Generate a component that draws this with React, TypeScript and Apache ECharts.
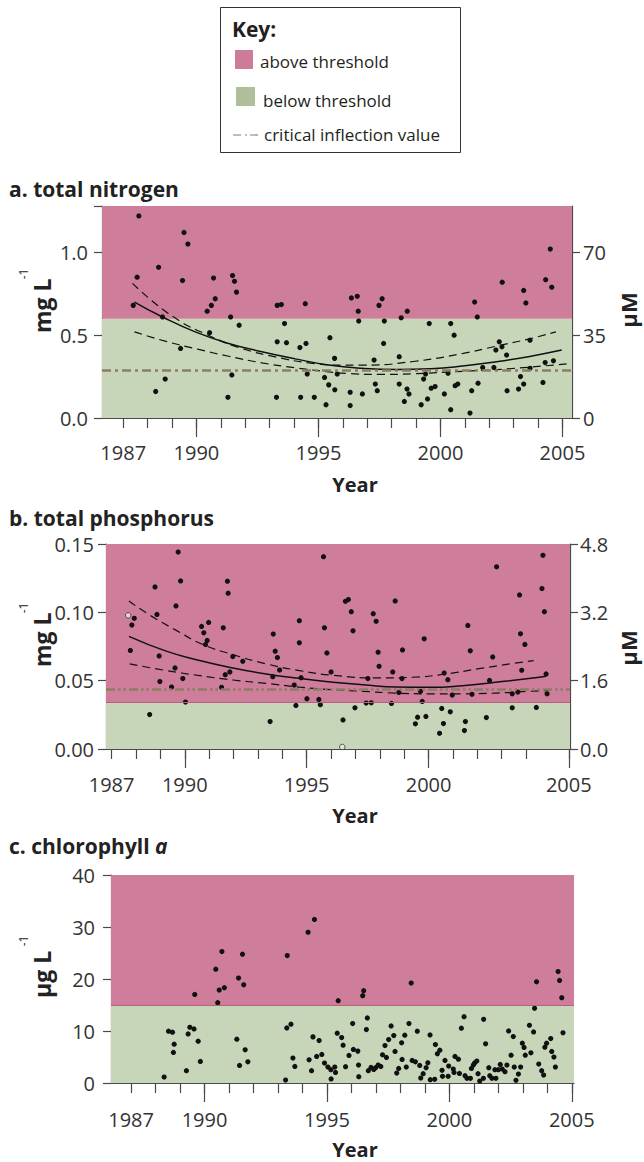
import { useEffect, useRef } from "react";
import * as echarts from "echarts";

const FONT = '"Open Sans", "DejaVu Sans", sans-serif';
const PINK = "#CE7D9B";
const GREEN = "#C7D6B9";
const KEY_PINK = "#CC7B9A";
const KEY_GREEN = "#AFBF99";
const CRIT = "#8A7E64";
const AX = "#4a4a4a";
const TXT = "#333333";

// ---------- tick labels ----------
const tickYears = [1987, 1988, 1989, 1990, 1991, 1992, 1993, 1994, 1995, 1996, 1997, 1998, 1999, 2000, 2001, 2002, 2003, 2004, 2005];
const majorYears = [1990, 1995, 2000, 2005];
const labelYears = [1987, 1990, 1995, 2000, 2005];
const phosLastTick = 2005.75; // panel b draws its "2005" tick at the right edge

// ---------- a. total nitrogen (mg/L) ----------
const nitrogenPoints = [
  [1987.64, 1.22], [1987.57, 0.85], [1987.41, 0.68], [1988.45, 0.91], [1988.61, 0.61], [1988.33, 0.16], [1988.72, 0.235],
  [1989.49, 1.12], [1989.65, 1.05], [1989.43, 0.83], [1989.35, 0.42], [1990.7, 0.845], [1990.77, 0.72], [1990.61, 0.68],
  [1990.44, 0.645], [1990.54, 0.515], [1991.48, 0.86], [1991.56, 0.825], [1991.64, 0.76], [1991.4, 0.61], [1991.75, 0.56],
  [1991.45, 0.26], [1991.29, 0.125], [1993.31, 0.68], [1993.48, 0.685], [1993.61, 0.57], [1993.31, 0.46], [1993.69, 0.455],
  [1993.28, 0.125], [1994.46, 0.69], [1994.24, 0.425], [1994.49, 0.45], [1994.54, 0.265], [1994.27, 0.125], [1994.83, 0.125],
  [1995.47, 0.485], [1995.66, 0.36], [1995.25, 0.245], [1995.42, 0.2], [1995.67, 0.17], [1995.31, 0.08], [1995.77, 0.265],
  [1996.35, 0.725], [1996.59, 0.735], [1996.63, 0.645], [1996.65, 0.585], [1996.3, 0.155], [1996.3, 0.075], [1996.8, 0.145],
  [1997.61, 0.72], [1997.48, 0.68], [1997.7, 0.585], [1997.67, 0.45], [1997.28, 0.35], [1997.33, 0.205], [1997.41, 0.165],
  [1998.39, 0.605], [1998.64, 0.645], [1998.31, 0.37], [1998.31, 0.205], [1998.63, 0.175], [1998.71, 0.145], [1998.52, 0.1],
  [1999.54, 0.57], [1999.39, 0.265], [1999.31, 0.235], [1999.62, 0.18], [1999.78, 0.19], [1999.47, 0.115], [1999.21, 0.08],
  [2000.42, 0.57], [2000.56, 0.5], [2000.31, 0.27], [2000.6, 0.195], [2000.71, 0.205], [2000.16, 0.145], [2000.42, 0.05],
  [2001.4, 0.7], [2001.51, 0.61], [2001.54, 0.21], [2001.28, 0.165], [2001.21, 0.03], [2002.53, 0.82], [2002.41, 0.46],
  [2002.52, 0.43], [2002.27, 0.41], [2002.71, 0.38], [2002.19, 0.305], [2001.73, 0.305], [2002.73, 0.165], [2003.41, 0.77],
  [2003.5, 0.695], [2003.28, 0.25], [2003.41, 0.205], [2003.2, 0.175], [2003.67, 0.47], [2003.67, 0.3], [2004.5, 1.02],
  [2004.31, 0.835], [2004.56, 0.79], [2004.29, 0.335], [2004.63, 0.345], [2004.2, 0.215],
];
const nitrogenFit = [
  [1987.46, 0.7], [1988.61, 0.61], [1989.95, 0.52], [1991.32, 0.45], [1992.68, 0.4], [1994.05, 0.357], [1995.42, 0.32],
  [1996.8, 0.3], [1998.2, 0.293], [1999.6, 0.297], [2001.0, 0.315], [2002.3, 0.34], [2003.6, 0.37], [2004.97, 0.41],
];
const nitrogenUpper = [
  [1987.38, 0.813], [1989.02, 0.614], [1990.66, 0.488], [1991.86, 0.42], [1993.23, 0.369], [1994.6, 0.333], [1995.96, 0.319],
  [1996.84, 0.319], [1998.88, 0.341], [2000.93, 0.39], [2002.29, 0.434], [2003.65, 0.478], [2004.73, 0.52],
];
const nitrogenLower = [
  [1987.46, 0.52], [1988.72, 0.464], [1990.09, 0.414], [1991.32, 0.373], [1992.68, 0.333], [1994.05, 0.303], [1995.42, 0.279],
  [1996.16, 0.269], [1997.52, 0.263], [1998.88, 0.267], [2000.24, 0.277], [2001.6, 0.287], [2002.97, 0.299], [2005.17, 0.327],
];
const nitrogenThreshold = 0.6;
const nitrogenCritical = 0.29;
const nitrogenMax = 1.28;
const nitrogenToMicroM = 70;

// ---------- b. total phosphorus (mg/L) ----------
const phosphorusPoints = [
  [1987.93, 0.0956], [1987.83, 0.0907], [1987.77, 0.0721], [1988.78, 0.1186], [1988.86, 0.0985], [1988.95, 0.0681],
  [1988.98, 0.0493], [1988.56, 0.0252], [1989.73, 0.1441], [1989.83, 0.123], [1989.64, 0.1047], [1989.6, 0.0593],
  [1989.46, 0.0453], [1989.92, 0.0515], [1990.03, 0.0343], [1990.69, 0.0897], [1990.98, 0.0926], [1990.78, 0.085],
  [1990.92, 0.0794], [1990.85, 0.0765], [1991.75, 0.1228], [1991.78, 0.114], [1991.58, 0.0887], [1991.97, 0.0676],
  [1991.66, 0.0544], [1991.85, 0.0564], [1991.51, 0.0451], [1992.38, 0.0642], [1993.63, 0.0841], [1993.71, 0.0716],
  [1993.8, 0.0669], [1993.89, 0.0578], [1993.61, 0.0529], [1993.5, 0.0201], [1994.7, 0.0939], [1994.7, 0.0777],
  [1994.77, 0.0522], [1994.49, 0.0468], [1994.56, 0.0319], [1995.01, 0.0368], [1995.69, 0.1407], [1995.73, 0.0887],
  [1995.83, 0.0703], [1996.0, 0.0564], [1995.5, 0.0363], [1995.56, 0.0324], [1996.59, 0.1081], [1996.71, 0.1093],
  [1996.83, 0.1005], [1996.9, 0.0865], [1996.49, 0.0213], [1996.98, 0.0301], [1997.51, 0.0515], [1997.44, 0.0336],
  [1997.65, 0.0338], [1997.73, 0.099], [1997.85, 0.0934], [1997.93, 0.0708], [1997.97, 0.0605], [1998.53, 0.0564],
  [1998.63, 0.1083], [1998.48, 0.0333], [1998.78, 0.0414], [1998.93, 0.0725], [1998.91, 0.0515], [1999.82, 0.0806],
  [1999.74, 0.0348], [1999.67, 0.0422], [1999.55, 0.0233], [1999.46, 0.0184], [1999.89, 0.0238], [2000.64, 0.0556],
  [2000.79, 0.0507], [2000.97, 0.0395], [2000.54, 0.0297], [2000.89, 0.0272], [2000.61, 0.0186], [2000.45, 0.0115],
  [2001.61, 0.0904], [2001.71, 0.0718], [2001.78, 0.04], [2001.51, 0.0201], [2001.47, 0.0135], [2002.63, 0.0674],
  [2002.5, 0.0502], [2002.37, 0.023], [2002.79, 0.1333], [2003.73, 0.1127], [2003.77, 0.0843], [2003.95, 0.0765],
  [2003.82, 0.0576], [2003.66, 0.0417], [2003.43, 0.0404], [2003.43, 0.0301], [2004.69, 0.1417], [2004.65, 0.1174],
  [2004.75, 0.1005], [2004.82, 0.0549], [2004.86, 0.0404], [2004.42, 0.0304],
];
const phosphorusOpen = [[1987.68, 0.0978], [1996.46, 0.0015]];
const phosphorusFit = [
  [1987.71, 0.0824], [1989.24, 0.0716], [1990.61, 0.0647], [1991.97, 0.0593], [1993.34, 0.0549], [1994.7, 0.0517],
  [1996.07, 0.0488], [1997.31, 0.0471], [1998.67, 0.0453], [2000.03, 0.0451], [2001.39, 0.0463], [2002.75, 0.0488],
  [2004.11, 0.0515], [2004.82, 0.0532],
];
const phosphorusUpper = [
  [1987.71, 0.1083], [1988.56, 0.098], [1989.65, 0.0868], [1990.74, 0.0765], [1991.97, 0.0691], [1993.34, 0.0623],
  [1994.7, 0.0574], [1996.07, 0.0539], [1997.99, 0.052], [1999.35, 0.0525], [2000.71, 0.0549], [2002.07, 0.0588],
  [2003.43, 0.0625], [2004.31, 0.0647],
];
const phosphorusLower = [
  [1987.74, 0.0623], [1989.24, 0.0574], [1990.61, 0.0537], [1991.97, 0.0505], [1993.34, 0.048], [1994.7, 0.0453],
  [1996.07, 0.0434], [1997.31, 0.0422], [1998.67, 0.0409], [2000.03, 0.0404], [2001.39, 0.0404], [2002.75, 0.0409],
  [2004.11, 0.0422], [2004.93, 0.0429],
];
const phosphorusThreshold = 0.034;
const phosphorusCritical = 0.044;
const phosphorusMax = 0.15;
const phosphorusMicroMMax = 4.8;

// ---------- c. chlorophyll a (µg/L) ----------
const chlorophyllPoints = [
  [1988.35, 1.15], [1988.53, 9.96], [1988.69, 9.76], [1988.76, 7.47], [1988.73, 5.87], [1989.26, 2.36], [1989.33, 9.44],
  [1989.4, 10.72], [1989.57, 10.4], [1989.74, 8.04], [1989.83, 4.15], [1989.6, 17.04], [1990.46, 21.89], [1990.71, 25.27],
  [1990.6, 17.87], [1990.81, 18.32], [1990.54, 15.44], [1991.39, 20.17], [1991.55, 24.76], [1991.6, 18.89], [1991.32, 8.42],
  [1991.66, 6.38], [1991.43, 3.38], [1991.77, 4.08], [1993.38, 24.51], [1993.36, 10.59], [1993.53, 11.3], [1993.31, 0.57],
  [1993.61, 4.79], [1993.69, 3.19], [1994.23, 28.97], [1994.49, 31.46], [1994.43, 8.87], [1994.68, 8.17], [1994.27, 4.47],
  [1994.37, 2.36], [1994.58, 5.11], [1994.79, 5.49], [1994.9, 3.83], [1995.04, 3.06], [1995.16, 2.55], [1995.32, 3.06],
  [1995.35, 2.04], [1995.17, 0.77], [1995.46, 15.83], [1995.42, 9.57], [1995.6, 8.74], [1995.66, 7.28],
  [1995.76, 3.13], [1995.9, 5.3], [1996.08, 6.45], [1996.26, 6.13], [1996.05, 11.42], [1996.29, 3.45], [1996.3, 1.21],
  [1996.46, 16.78], [1996.5, 17.74], [1996.65, 12.51], [1996.61, 10.27], [1996.69, 2.36], [1996.8, 3.0], [1996.91, 2.62],
  [1996.99, 2.94], [1997.09, 3.45], [1997.2, 3.19], [1997.27, 5.42], [1997.37, 7.21], [1997.43, 4.91], [1997.52, 8.36],
  [1997.62, 10.98], [1997.73, 9.13], [1997.78, 6.06], [1997.85, 1.91], [1997.93, 2.81], [1998.05, 7.72], [1998.07, 4.53],
  [1998.18, 9.19], [1998.24, 3.06], [1998.44, 19.21], [1998.35, 11.42], [1998.48, 4.34], [1998.61, 4.08], [1998.69, 9.96],
  [1998.79, 3.38], [1998.83, 0.96], [1998.93, 1.79], [1999.05, 2.94], [1999.12, 3.89], [1999.21, 9.25], [1999.22, 0.64],
  [1999.4, 0.7], [1999.43, 7.4], [1999.51, 5.62], [1999.61, 6.32], [1999.7, 2.43], [1999.72, 1.28], [1999.82, 4.34],
  [1999.95, 1.28], [1999.97, 3.25], [2000.16, 2.68], [2000.19, 2.04], [2000.23, 5.11], [2000.37, 4.59], [2000.41, 1.85],
  [2000.49, 10.53], [2000.6, 12.76], [2000.64, 1.4], [2000.72, 0.89], [2000.86, 0.89], [2000.9, 2.81], [2000.98, 3.45],
  [2001.03, 3.83], [2001.12, 4.21], [2001.17, 1.79], [2001.24, 0.38], [2001.39, 0.89], [2001.4, 12.25], [2001.48, 7.53],
  [2001.61, 2.94], [2001.65, 1.4], [2001.74, 0.89], [2001.86, 2.55], [2001.9, 0.89], [2002.0, 2.55], [2002.08, 3.57],
  [2002.16, 2.68], [2002.27, 2.17], [2002.35, 3.45], [2002.42, 10.02], [2002.52, 5.36], [2002.61, 8.93], [2002.65, 3.06],
  [2002.72, 0.51], [2002.82, 1.72], [2002.91, 3.06], [2002.98, 7.66], [2003.05, 6.83], [2003.1, 5.36], [2003.27, 11.1],
  [2003.33, 5.81], [2003.44, 9.83], [2003.48, 14.36], [2003.56, 19.46], [2003.65, 3.64], [2003.77, 2.36], [2003.85, 1.53],
  [2003.9, 6.89], [2003.97, 7.66], [2004.14, 8.55], [2004.18, 6.06], [2004.27, 4.98], [2004.33, 3.06], [2004.44, 21.44],
  [2004.5, 19.72], [2004.59, 16.4], [2004.64, 9.64],
];
const chlorophyllThreshold = 15;
const chlorophyllMax = 40;

export default function App() {
  const ref = useRef<HTMLDivElement>(null);

  useEffect(() => {
    if (!ref.current) return;
    const chart = echarts.init(ref.current, null, { renderer: "svg" });

    const labelStyle = { color: TXT, fontSize: 20, fontFamily: FONT };
    const lineSty = { color: AX, width: 1.2 };

    const makeX = (gi: number, min: number, max: number, ticks: number[], majors: number[], labels: number[], margin: number) => [
      {
        type: "value", gridIndex: gi, min, max, position: "bottom",
        axisLine: { show: true, onZero: false, lineStyle: lineSty },
        axisTick: { show: true, customValues: ticks, length: 10, lineStyle: lineSty },
        axisLabel: { show: true, customValues: labels, margin, ...labelStyle, formatter: (v: number) => String(Math.floor(v + 1e-6)) },
        splitLine: { show: false },
      },
      {
        type: "value", gridIndex: gi, min, max, position: "bottom",
        axisLine: { show: false },
        axisTick: { show: true, customValues: majors, length: 19, lineStyle: lineSty },
        axisLabel: { show: false },
        splitLine: { show: false },
      },
    ];

    const makeY = (gi: number, min: number, max: number, pos: string, ticks: number[], labels: number[], margin: number, fmt: (v: number) => string) => ({
      type: "value", gridIndex: gi, min, max, position: pos,
      axisLine: { show: true, onZero: false, lineStyle: lineSty },
      axisTick: { show: true, customValues: ticks, length: 8, lineStyle: lineSty },
      axisLabel: { show: true, customValues: labels, margin, ...labelStyle, formatter: fmt },
      splitLine: { show: false },
    });

    const phosTicks = tickYears.slice(0, -1).concat([phosLastTick]);
    const phosMajors = majorYears.slice(0, -1).concat([phosLastTick]);
    const phosLabels = labelYears.slice(0, -1).concat([phosLastTick]);

    const xAxis = [
      ...makeX(0, 1986.13, 2005.39, tickYears, majorYears, labelYears, 24),
      ...makeX(1, 1986.77, 2005.8, phosTicks, phosMajors, phosLabels, 25),
      ...makeX(2, 1986.18, 2005.09, tickYears, majorYears, labelYears, 26),
    ];

    const nMicroMax = nitrogenMax * nitrogenToMicroM;
    const yAxis = [
      makeY(0, 0, nitrogenMax, "left", [0, 0.5, 1.0, nitrogenMax], [0, 0.5, 1.0], 14, (v) => v.toFixed(1)),
      makeY(0, 0, nMicroMax, "right", [0, 35, 70], [0, 35, 70], 11, (v) => String(v)),
      makeY(1, 0, phosphorusMax, "left", [0, 0.05, 0.1, 0.15], [0, 0.05, 0.1, 0.15], 12, (v) => v.toFixed(2)),
      makeY(1, 0, phosphorusMicroMMax, "right", [0, 1.6, 3.2, 4.8], [0, 1.6, 3.2, 4.8], 10, (v) => v.toFixed(1)),
      makeY(2, 0, chlorophyllMax, "left", [0, 10, 20, 30, 40], [0, 10, 20, 30, 40], 16, (v) => String(v)),
    ];

    const bands = (xi: number, yi: number, thr: number, max: number, edge: boolean) => ({
      type: "line", xAxisIndex: xi, yAxisIndex: yi, data: [], silent: true, z: 1,
      markArea: {
        silent: true,
        precision: 6,
        data: [
          [{ yAxis: 0, itemStyle: { color: GREEN } }, { yAxis: thr }],
          [{ yAxis: thr, itemStyle: { color: PINK } }, { yAxis: max }],
        ],
      },
      markLine: edge
        ? { silent: true, precision: 6, symbol: ["none", "none"], label: { show: false }, lineStyle: { color: "#B5617F", width: 1, type: "solid" }, data: [{ yAxis: thr }] }
        : undefined,
    });

    const critical = (xi: number, yi: number, val: number, dash: number[]) => ({
      type: "line", xAxisIndex: xi, yAxisIndex: yi, data: [], silent: true, z: 2,
      markLine: {
        silent: true, precision: 6, symbol: ["none", "none"], label: { show: false },
        lineStyle: { color: CRIT, width: 2.6, type: dash, opacity: 1 },
        data: [{ yAxis: val }],
      },
    });

    const dots = (xi: number, yi: number, data: number[][]) => ({
      type: "scatter", xAxisIndex: xi, yAxisIndex: yi, data, symbolSize: 5.2, z: 4,
      itemStyle: { color: "#111111", opacity: 1 }, silent: true,
    });

    const curve = (xi: number, yi: number, data: number[][], dashed: boolean) => ({
      type: "line", xAxisIndex: xi, yAxisIndex: yi, data, smooth: true, showSymbol: false, z: 3, silent: true,
      lineStyle: { color: "#111111", width: dashed ? 1.2 : 1.5, type: dashed ? [8, 5] : "solid" },
    });

    const series = [
      bands(0, 0, nitrogenThreshold, nitrogenMax, false),
      critical(0, 0, nitrogenCritical, [9, 4, 3, 4]),
      curve(0, 0, nitrogenFit, false),
      curve(0, 0, nitrogenUpper, true),
      curve(0, 0, nitrogenLower, true),
      dots(0, 0, nitrogenPoints),

      bands(2, 2, phosphorusThreshold, phosphorusMax, true),
      critical(2, 2, phosphorusCritical, [9, 3, 2.5, 3, 2.5, 3]),
      curve(2, 2, phosphorusFit, false),
      curve(2, 2, phosphorusUpper, true),
      curve(2, 2, phosphorusLower, true),
      dots(2, 2, phosphorusPoints),
      {
        type: "scatter", xAxisIndex: 2, yAxisIndex: 2, data: phosphorusOpen, symbolSize: 5.5, z: 4, silent: true,
        itemStyle: { color: "#e8e8e8", borderColor: "#333333", borderWidth: 1 },
      },

      bands(4, 4, chlorophyllThreshold, chlorophyllMax, true),
      dots(4, 4, chlorophyllPoints),
    ];

    const title = (y: number, text: string, rich?: any) => ({
      type: "text", x: 9, y,
      style: { text, fill: "#222222", fontSize: 21, fontWeight: "bold", fontFamily: FONT, align: "left", verticalAlign: "middle", rich },
    });
    const yearLabel = (y: number) => ({
      type: "text", x: 355, y,
      style: { text: "Year", fill: "#222222", fontSize: 20, fontWeight: "bold", fontFamily: FONT, align: "center", verticalAlign: "middle" },
    });
    const unitLabel = (x: number, y: number, main: string, sup: string, supDx: number) => ({
      type: "group", x, y, rotation: Math.PI / 2,
      children: [
        { type: "text", x: 0, y: 0, style: { text: main, fill: "#222222", fontSize: 23, fontWeight: "bold", fontFamily: FONT, align: "left", verticalAlign: "middle" } },
        { type: "text", x: supDx, y: -19, style: { text: sup, fill: "#222222", fontSize: 12, fontFamily: FONT, align: "center", verticalAlign: "middle" } },
      ],
    });
    const microM = (x: number, y: number) => ({
      type: "text", x, y, rotation: Math.PI / 2,
      style: { text: "µM", fill: "#222222", fontSize: 22, fontWeight: "bold", fontFamily: FONT, align: "center", verticalAlign: "middle" },
    });
    const r2 = (x: number, y: number, val: string) => ({
      type: "group", x, y,
      children: [
        { type: "text", x: 0, y: 0, style: { text: "R", fill: "#4a3842", fontSize: 19, fontFamily: FONT, align: "left", verticalAlign: "middle" } },
        { type: "text", x: 12, y: -5, style: { text: "2", fill: "#4a3842", fontSize: 11, fontFamily: FONT, align: "left", verticalAlign: "middle" } },
        { type: "text", x: 19, y: 0, style: { text: "= " + val, fill: "#4a3842", fontSize: 19, fontFamily: FONT, align: "left", verticalAlign: "middle" } },
      ],
    });

    const keyText = (x: number, y: number, text: string) => ({
      type: "text", x, y,
      style: { text, fill: "#231F20", fontSize: 17, fontFamily: FONT, align: "left", verticalAlign: "middle" },
    });

    const graphic = [
      { type: "rect", shape: { x: 220.5, y: 7.5, width: 240, height: 145 }, style: { fill: "#ffffff", stroke: "#333333", lineWidth: 1 } },
      { type: "text", x: 232, y: 29, style: { text: "Key:", fill: "#231F20", fontSize: 21, fontWeight: "bold", fontFamily: FONT, align: "left", verticalAlign: "middle" } },
      { type: "rect", shape: { x: 235, y: 50, width: 18, height: 19 }, style: { fill: KEY_PINK } },
      keyText(260, 61, "above threshold"),
      { type: "rect", shape: { x: 236, y: 87, width: 19, height: 19 }, style: { fill: KEY_GREEN } },
      keyText(263, 100, "below threshold"),
      { type: "line", shape: { x1: 233, y1: 135, x2: 258, y2: 135 }, style: { stroke: CRIT, lineWidth: 1.2, lineDash: [8, 4, 2, 3] } },
      keyText(264, 134, "critical inflection value"),

      title(189, "a. total nitrogen"),
      title(518, "b. total phosphorus"),
      title(846, "c. chlorophyll {i|a}", { i: { fontStyle: "italic", fontWeight: "bold", fontSize: 21, fontFamily: FONT, fill: "#222222" } }),

      yearLabel(484),
      yearLabel(815),
      yearLabel(1149),

      unitLabel(42, 333, "mg L", "-1", 59),
      unitLabel(42, 667, "mg L", "-1", 59),
      unitLabel(42, 998, "µg L", "-1", 57),

      microM(628, 310),
      microM(628, 648),

      r2(408, 250, ".43"),
      r2(410, 574, ".46"),
    ];

    chart.setOption({
      animation: false,
      backgroundColor: "#ffffff",
      grid: [
        { left: 102, top: 206, width: 470, height: 212, outerBoundsMode: "none" },
        { left: 106, top: 544, width: 464, height: 205, outerBoundsMode: "none" },
        { left: 111, top: 875, width: 463, height: 208, outerBoundsMode: "none" },
      ],
      xAxis,
      yAxis,
      series,
      graphic,
    } as any);

    return () => chart.dispose();
  }, []);

  return <div ref={ref} style={{ position: "absolute", left: 0, top: 0, width: 644, height: 1162 }} />;
}
